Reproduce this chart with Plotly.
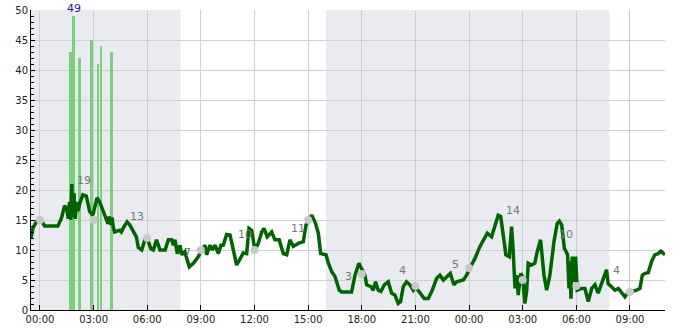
import plotly.graph_objects as go
import pandas as pd

BASE = pd.Timestamp("2024-01-01 00:00")

# Main series: hours from base, value
line_hours = [-0.5, -0.39, -0.2, 0.05, 0.26, 1.0, 1.2, 1.38, 1.5, 1.58, 1.65, 1.72, 1.78, 1.83, 1.9, 1.97,
              2.05, 2.12, 2.25, 2.4, 2.59, 2.78, 2.96, 3.06, 3.19, 3.34, 3.43, 3.62, 3.8, 3.88, 3.95, 4.03,
              4.1, 4.18, 4.46, 4.55, 4.7, 4.87, 5.02, 5.2, 5.39, 5.5, 5.69, 5.87, 6.0, 6.2, 6.34, 6.52,
              6.71, 7.0, 7.18, 7.36, 7.46, 7.55, 7.68, 7.83, 7.93, 8.1, 8.35, 8.58, 8.86, 9.04, 9.23, 9.32,
              9.51, 9.64, 9.79, 9.98, 10.12, 10.25, 10.44, 10.63, 10.81, 11.0, 11.19, 11.37, 11.56, 11.69,
              11.84, 12.02, 12.21, 12.4, 12.53, 12.71, 12.96, 13.14, 13.38, 13.61, 13.8, 13.98, 14.17,
              14.45, 14.73, 14.88, 15.04, 15.2, 15.38, 15.57, 15.7, 16.0, 16.13, 16.32, 16.5, 16.74,
              16.87, 17.43, 17.62, 17.84, 18.0, 18.18, 18.27, 18.51, 18.64, 18.77, 18.92, 19.07, 19.26,
              19.48, 19.67, 19.85, 20.04, 20.17, 20.32, 20.5, 20.69, 20.88, 21.0, 21.31, 21.49, 21.72,
              21.94, 22.19, 22.37, 22.56, 22.75, 22.95, 23.15, 23.3, 23.68, 23.86, 24.05, 24.33, 24.61,
              24.89, 25.02, 25.26, 25.45, 25.63, 25.77, 25.91, 26.06, 26.25, 26.38, 26.47, 26.57, 26.66,
              26.75, 26.89, 27.0, 27.12, 27.22, 27.31, 27.5, 27.68, 27.81, 28.0, 28.19, 28.34, 28.52,
              28.75, 28.93, 29.05, 29.18, 29.33, 29.51, 29.59, 29.64, 29.7, 29.77, 29.88, 29.96, 30.05,
              30.3, 30.48, 30.67, 30.86, 31.04, 31.22, 31.5, 31.69, 31.78, 31.97, 32.16, 32.35, 32.53,
              32.72, 32.87, 33.0, 33.37, 33.56, 33.69, 33.84, 34.02, 34.21, 34.39, 34.58, 34.73, 34.96]
line_values = [12.0, 13.7, 14.7, 15.0, 14.0, 14.0, 15.3, 17.4, 16.8, 15.2, 18.0, 15.0, 21.0, 15.5, 19.5, 15.2,
               18.0, 16.5, 18.0, 19.2, 19.0, 16.4, 15.8, 17.0, 18.7, 18.0, 17.2, 15.8, 14.4, 15.6, 14.2, 15.4,
               13.8, 13.0, 13.3, 13.0, 13.9, 14.7, 14.2, 13.3, 12.2, 10.4, 10.0, 11.7, 12.0, 10.2, 10.0, 11.7,
               10.0, 10.0, 11.7, 11.7, 10.8, 11.7, 9.4, 10.8, 9.2, 9.7, 7.2, 7.8, 8.9, 10.0, 10.8, 9.2,
               10.8, 10.0, 10.8, 9.4, 10.8, 10.8, 12.6, 12.5, 10.3, 7.5, 8.5, 9.5, 9.4, 13.6,
               13.3, 10.0, 11.1, 13.0, 13.6, 12.2, 13.0, 11.7, 11.7, 9.4, 9.2, 11.7, 10.6,
               11.1, 11.4, 14.2, 15.0, 15.8, 14.7, 12.8, 9.4, 9.2, 7.8, 6.4, 5.6, 3.3,
               3.0, 3.0, 5.8, 7.8, 6.8, 5.8, 4.2, 3.9, 3.3, 4.7, 3.3, 3.1, 4.2,
               4.7, 2.8, 2.5, 1.1, 1.4, 3.9, 4.7, 4.2, 3.3, 3.9, 2.5, 1.9, 1.9,
               3.3, 5.3, 5.8, 5.0, 5.6, 6.1, 4.2, 4.7, 5.0, 5.8, 7.0, 8.6, 10.6,
               12.2, 12.8, 12.2, 14.2, 15.8, 15.6, 12.5, 9.2, 8.9, 13.9, 9.7, 3.6, 5.8,
               2.5, 6.1, 5.5, 1.1, 3.1, 7.8, 7.5, 7.8, 9.7, 11.7, 5.8, 3.3, 5.8,
               11.4, 14.4, 14.8, 14.2, 10.3, 9.2, 3.6, 8.1, 1.9, 8.9, 4.7, 8.9, 3.3,
               3.6, 3.6, 1.4, 3.6, 4.2, 2.8, 5.3, 6.7, 4.4, 3.9, 3.3, 3.6, 2.8,
               2.2, 2.8, 3.0, 3.3, 3.6, 5.8, 6.1, 6.2, 8.1, 9.2, 9.4, 9.8, 9.2]

# Bars (hours, value)
bar_hours = [1.72, 1.88, 2.23, 2.9, 3.24, 3.41, 4.02]
bar_values = [43, 49, 42, 45, 41, 44, 43]

# 3-hourly grey dots
dot_hours = [0, 3, 6, 9, 12, 15, 18, 21, 24, 27, 30, 33]
dot_values = [15, 15, 12, 10, 10, 15, 6, 4, 7, 5, 4, 3]

# Grey labels
label_hours = [2, 5, 8, 11, 14, 17, 20, 23, 26, 29, 32]
label_values = [19, 13, 7, 10, 11, 3, 4, 5, 14, 10, 4]

# Shaded periods (hours)
shade_periods = [(-0.5, 7.87), (16.0, 31.85)]

x_start_h, x_end_h = -0.503, 34.96
y_ticks = [0, 5, 10, 15, 20, 25, 30, 35, 40, 45, 50]


def t(h):
    return BASE + pd.to_timedelta(h, unit="h")


fig = go.Figure()

fig.add_trace(go.Bar(
    x=[t(h) for h in bar_hours], y=bar_values,
    width=6.0 * 60 * 1000,
    marker=dict(color="#7ccf7c", line=dict(width=0)),
    hoverinfo="skip", showlegend=False,
))

fig.add_trace(go.Scatter(
    x=[t(h) for h in line_hours], y=line_values,
    mode="lines", line=dict(color="#006400", width=3.5),
    showlegend=False,
))

fig.add_trace(go.Scatter(
    x=[t(h) for h in dot_hours], y=dot_values,
    mode="markers", marker=dict(color="#c8c8c8", size=8),
    showlegend=False,
))

for h, v in zip(label_hours, label_values):
    fig.add_annotation(x=t(h), y=v, text=str(v), showarrow=False,
                       xanchor="left", yanchor="middle", yshift=16, xshift=-1,
                       font=dict(family="DejaVu Sans", size=11, color="#777777"))

imax = bar_values.index(max(bar_values))
fig.add_annotation(x=t(bar_hours[imax]), y=bar_values[imax], text=str(bar_values[imax]),
                   showarrow=False, yanchor="bottom", yshift=-1,
                   font=dict(family="DejaVu Sans", size=11, color="#1a1a9a"))

for s, e in shade_periods:
    fig.add_shape(type="rect", xref="x", yref="paper", x0=t(s), x1=t(e), y0=0, y1=1,
                  fillcolor="#eaebf1", line=dict(width=0), layer="below")

fig.update_layout(
    width=685, height=330,
    margin=dict(l=31, r=20, t=10, b=20, autoexpand=False),
    paper_bgcolor="white", plot_bgcolor="white",
    font=dict(family="DejaVu Sans", size=10, color="#222222"),
    bargap=0,
)

fig.update_xaxes(
    type="date", range=[t(x_start_h), t(x_end_h)],
    tick0=BASE, dtick=3 * 3600 * 1000, tickformat="%H:%M",
    showgrid=True, gridcolor="#cfcfcf", gridwidth=1,
    showline=True, linecolor="black", linewidth=1,
    ticks="inside", ticklen=5, tickcolor="black",
    tickfont=dict(size=10, color="#222222"),
    zeroline=False, automargin=False,
)

fig.update_yaxes(
    range=[0, 50], tickvals=y_ticks,
    showgrid=True, gridcolor="#cfcfcf", gridwidth=1,
    showline=True, linecolor="black", linewidth=1,
    ticks="inside", ticklen=4, tickcolor="black",
    minor=dict(dtick=1, ticks="inside", ticklen=3, tickcolor="black", showgrid=False),
    tickfont=dict(size=10, color="#222222"),
    zeroline=False, automargin=False,
)

fig.write_html("out.html")
